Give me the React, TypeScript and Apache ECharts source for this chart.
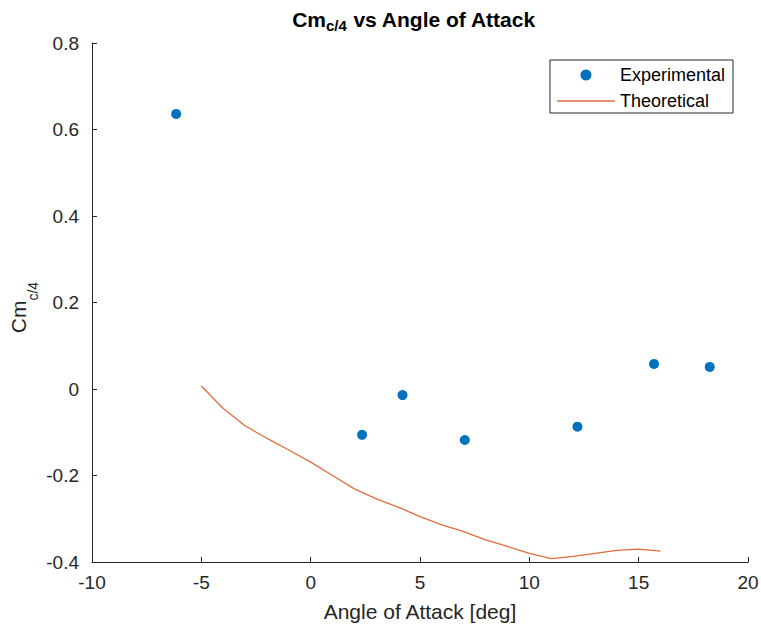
import React, { useEffect, useRef } from "react";
import * as echarts from "echarts";

const expAlpha = [-6.15, 2.35, 4.2, 7.05, 12.2, 15.7, 18.25];
const expCm = [0.636, -0.106, -0.014, -0.118, -0.087, 0.058, 0.051];

const theoAlpha = [-5, -4, -3, -2, -1, 0, 1, 2, 3, 4, 5, 6, 7, 8, 9, 10, 11, 12, 13, 14, 15, 16];
const theoCm = [0.007, -0.045, -0.085, -0.114, -0.141, -0.169, -0.2, -0.231, -0.254, -0.273, -0.295, -0.314, -0.33, -0.349, -0.364, -0.38, -0.392, -0.387, -0.38, -0.373, -0.37, -0.375];

const FONT = "Liberation Sans, Arial, sans-serif";
const TXT = "#262626";

export default function App() {
  const ref = useRef<HTMLDivElement>(null);
  useEffect(() => {
    if (!ref.current) return;
    const chart = echarts.init(ref.current, undefined, { renderer: "svg" });
    chart.setOption({
      animation: false,
      backgroundColor: "#ffffff",
      textStyle: { fontFamily: FONT },
      title: {
        text: "{a|Cm}{s|c/4}{a| vs Angle of Attack}",
        left: 414,
        textAlign: "center",
        top: 9,
        padding: 0,
        textStyle: {
          rich: {
            a: { fontSize: 21, fontWeight: "bold", color: "#000", fontFamily: FONT, lineHeight: 24, verticalAlign: "top" },
            s: { fontSize: 15, fontWeight: "bold", color: "#000", fontFamily: FONT, lineHeight: 6, verticalAlign: "bottom" },
          },
        },
      },
      legend: {
        orient: "vertical",
        right: 28,
        top: 60,
        backgroundColor: "#fff",
        borderColor: TXT,
        borderWidth: 1,
        borderRadius: 0,
        padding: [6, 8, 3, 7],
        itemWidth: 58,
        itemHeight: 11,
        itemGap: 8,
        itemTextGap: 7,
        textStyle: { fontSize: 18, color: "#000", fontFamily: FONT },
        data: [
          { name: "Experimental", icon: "circle", itemStyle: { opacity: 1 } },
          { name: "Theoretical", icon: "path://M0,0H58V1.3H0Z" },
        ],
      },
      grid: { left: 92, right: 13, top: 43, bottom: 66, containLabel: false, outerBoundsMode: "none" },
      xAxis: {
        type: "value",
        min: -10,
        max: 20,
        interval: 5,
        name: "Angle of Attack [deg]",
        nameLocation: "middle",
        nameGap: 39,
        nameMoveOverlap: false,
        nameTextStyle: { fontSize: 21, color: TXT, fontFamily: FONT },
        axisLine: { show: true, onZero: false, lineStyle: { color: TXT, width: 1 } },
        axisTick: { show: true, inside: true, length: 5, lineStyle: { color: TXT } },
        axisLabel: { fontSize: 19, color: TXT, margin: 11, fontFamily: FONT },
        splitLine: { show: false },
      },
      yAxis: {
        type: "value",
        min: -0.4,
        max: 0.8,
        interval: 0.2,
        name: "{a|Cm}{s|c/4}",
        nameLocation: "middle",
        nameRotate: 90,
        nameGap: 60,
        nameMoveOverlap: false,
        nameTextStyle: {
          padding: [0, 10, 0, 0],
          rich: {
            a: { fontSize: 21, color: TXT, fontFamily: FONT, lineHeight: 24, verticalAlign: "top" },
            s: { fontSize: 14, color: TXT, fontFamily: FONT, lineHeight: 14, padding: [18, 0, 0, 0], verticalAlign: "top" },
          },
        },
        axisLine: { show: true, onZero: false, lineStyle: { color: TXT, width: 1 } },
        axisTick: { show: true, inside: true, length: 5, lineStyle: { color: TXT } },
        axisLabel: {
          fontSize: 19,
          color: TXT,
          margin: 13,
          fontFamily: FONT,
          formatter: (v: number) => (Math.abs(v) < 1e-9 ? "0" : String(Math.round(v * 10) / 10)),
        },
        splitLine: { show: false },
      },
      series: [
        {
          name: "Experimental",
          type: "scatter",
          symbol: "circle",
          symbolSize: 10,
          itemStyle: { color: "#0072BD", opacity: 1 },
          data: expAlpha.map((a, i) => [a, expCm[i]]),
          z: 3,
        },
        {
          name: "Theoretical",
          type: "line",
          showSymbol: false,
          symbol: "none",
          lineStyle: { color: "#E06D3C", width: 1.3 },
          itemStyle: { color: "#E06D3C" },
          data: theoAlpha.map((a, i) => [a, theoCm[i]]),
          z: 2,
        },
      ],
    });
    return () => chart.dispose();
  }, []);
  return <div ref={ref} style={{ position: "fixed", left: 0, top: 0, width: 761, height: 628 }} />;
}
